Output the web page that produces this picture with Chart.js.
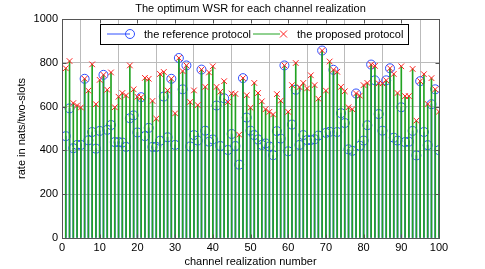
<!DOCTYPE html>
<html>
<head>
<meta charset="utf-8">
<script src="https://cdn.jsdelivr.net/npm/chart.js@4.4.1/dist/chart.umd.min.js"></script>
<style>
  html, body { margin: 0; padding: 0; background: #fff; }
  #wrap { width: 485px; height: 269px; position: relative; }
</style>
</head>
<body>
<div id="wrap"><canvas id="wsr" width="485" height="269"></canvas></div>
<script>
/* ---------- Data ---------- */
const realization = [
  1, 2, 3, 4, 5, 6, 7, 8, 9, 10, 11, 12, 13, 14, 15, 16, 17, 18, 19, 20,
  21, 22, 23, 24, 25, 26, 27, 28, 29, 30, 31, 32, 33, 34, 35, 36, 37, 38, 39, 40,
  41, 42, 43, 44, 45, 46, 47, 48, 49, 50, 51, 52, 53, 54, 55, 56, 57, 58, 59, 60,
  61, 62, 63, 64, 65, 66, 67, 68, 69, 70, 71, 72, 73, 74, 75, 76, 77, 78, 79, 80,
  81, 82, 83, 84, 85, 86, 87, 88, 89, 90, 91, 92, 93, 94, 95, 96, 97, 98, 99, 100
];

const referenceRate = [
  465, 592, 410, 425, 425, 727, 446, 484, 408, 489,
  745, 494, 516, 438, 438, 436, 416, 547, 560, 482,
  643, 465, 503, 416, 416, 444, 646, 460, 727, 425,
  822, 679, 788, 418, 470, 445, 769, 490, 440, 450,
  605, 420, 638, 402, 475, 420, 335, 730, 550, 490,
  470, 450, 425, 432, 418, 378, 488, 454, 788, 396,
  518, 677, 425, 470, 447, 447, 451, 468, 856, 480,
  485, 768, 484, 570, 525, 405, 398, 660, 421, 445,
  515, 792, 720, 566, 490, 720, 775, 458, 445, 597,
  438, 440, 489, 377, 716, 484, 424, 611, 679, 401
];

const proposedRate = [
  775, 808, 616, 605, 596, 727, 673, 793, 611, 722,
  745, 677, 756, 597, 645, 662, 651, 788, 679, 645,
  643, 731, 727, 626, 545, 749, 758, 674, 727, 569,
  822, 762, 788, 621, 674, 607, 769, 690, 756, 784,
  690, 668, 716, 621, 660, 658, 472, 730, 652, 595,
  708, 662, 624, 588, 576, 564, 657, 627, 788, 576,
  698, 799, 689, 708, 683, 743, 698, 636, 856, 673,
  806, 768, 759, 690, 670, 597, 588, 660, 650, 698,
  708, 792, 786, 706, 706, 720, 775, 749, 662, 784,
  648, 648, 772, 536, 716, 748, 612, 730, 679, 577
];

const xTicks = [0, 10, 20, 30, 40, 50, 60, 70, 80, 90, 100];
const yTicks = [0, 200, 400, 600, 800, 1000];

const TITLE = 'The optimum WSR for each channel realization';

/* ---------- Style ---------- */
const FONT = "'Liberation Sans', Arial, sans-serif";
const STEM_GREEN = '#22a322';
const STEM_BLUE = '#3050ff';
const MARK_RED = '#ff2020';
const BOX_GREY = '#555';

const pairs = (ys) => realization.map((x, i) => ({ x: x, y: ys[i] }));

// Title over the axes, box with inner ticks, in-plot legend (MATLAB style)
const boxAndLegend = {
  id: 'boxAndLegend',
  afterDraw(chart) {
    const { ctx, chartArea: a, scales } = chart;
    const L = Math.round(a.left) + 0.5, T = Math.round(a.top) + 0.5;
    const R = Math.round(a.right) + 0.5, B = Math.round(a.bottom) + 0.5;
    ctx.save();

    ctx.fillStyle = '#000';
    ctx.font = '11px ' + FONT;
    ctx.textAlign = 'center';
    ctx.textBaseline = 'middle';
    ctx.fillText(TITLE, (a.left + a.right) / 2, 9);

    ctx.strokeStyle = BOX_GREY;
    ctx.lineWidth = 1;
    ctx.strokeRect(L, T, R - L, B - T);
    ctx.beginPath();
    xTicks.forEach(v => {
      const px = Math.round(scales.x.getPixelForValue(v)) + 0.5;
      ctx.moveTo(px, B); ctx.lineTo(px, B - 4);
      ctx.moveTo(px, T); ctx.lineTo(px, T + 4);
    });
    yTicks.forEach(v => {
      const py = Math.round(scales.y.getPixelForValue(v)) + 0.5;
      ctx.moveTo(L, py); ctx.lineTo(L + 4, py);
      ctx.moveTo(R, py); ctx.lineTo(R - 4, py);
    });
    ctx.stroke();

    // legend
    const lx = 100, ly = 24, lw = 308, lh = 20, cy = ly + lh / 2;
    ctx.fillStyle = '#fff';
    ctx.fillRect(lx, ly, lw, lh);
    ctx.strokeStyle = '#000';
    ctx.strokeRect(lx + 0.5, ly + 0.5, lw, lh);

    ctx.strokeStyle = STEM_BLUE;
    ctx.beginPath();
    ctx.moveTo(107, cy); ctx.lineTo(130, cy); ctx.stroke();
    ctx.beginPath();
    ctx.arc(130, cy, 4.5, 0, Math.PI * 2); ctx.stroke();

    ctx.strokeStyle = STEM_GREEN;
    ctx.beginPath();
    ctx.moveTo(253, cy); ctx.lineTo(280, cy); ctx.stroke();
    ctx.strokeStyle = MARK_RED;
    ctx.beginPath();
    ctx.moveTo(280, cy - 3.5); ctx.lineTo(287, cy + 3.5);
    ctx.moveTo(280, cy + 3.5); ctx.lineTo(287, cy - 3.5);
    ctx.stroke();

    ctx.fillStyle = '#000';
    ctx.textAlign = 'left';
    ctx.fillText('the reference protocol', 144, cy + 0.5);
    ctx.fillText('the proposed protocol', 297, cy + 0.5);
    ctx.restore();
  }
};

new Chart(document.getElementById('wsr'), {
  type: 'bar',
  data: {
    datasets: [
      {
        type: 'bar',
        data: pairs(referenceRate),
        backgroundColor: STEM_BLUE,
        barThickness: 1,
        grouped: false,
        order: 4
      },
      {
        type: 'scatter',
        data: pairs(referenceRate),
        showLine: false,
        pointStyle: 'circle',
        pointRadius: 4.5,
        pointBorderWidth: 1,
        pointBorderColor: STEM_BLUE,
        pointBackgroundColor: 'rgba(0,0,0,0)',
        order: 3
      },
      {
        type: 'bar',
        data: pairs(proposedRate),
        backgroundColor: STEM_GREEN,
        barThickness: 1,
        grouped: false,
        order: 2
      },
      {
        type: 'scatter',
        data: pairs(proposedRate),
        showLine: false,
        pointStyle: 'crossRot',
        pointRadius: 4,
        pointBorderWidth: 1,
        pointBorderColor: MARK_RED,
        order: 1
      }
    ]
  },
  options: {
    responsive: false,
    animation: false,
    devicePixelRatio: 1,
    layout: { padding: { left: 0, right: 46, top: 19, bottom: 0 } },
    plugins: {
      legend: { display: false },
      tooltip: { enabled: false },
      title: { display: false }
    },
    scales: {
      x: {
        type: 'linear',
        min: 0,
        max: 100,
        offset: false,
        afterBuildTicks: (s) => { s.ticks = xTicks.map(v => ({ value: v })); },
        afterFit: (s) => { s.height = 31; },
        grid: { color: '#bbb', borderDash: [1, 2], drawTicks: false },
        border: { display: false },
        ticks: { color: '#000', padding: 3, maxRotation: 0, font: { family: FONT, size: 11 } },
        title: {
          display: true,
          text: 'channel realization number',
          color: '#000',
          padding: { top: 1, bottom: 0 },
          font: { family: FONT, size: 11 }
        }
      },
      y: {
        min: 0,
        max: 1000,
        afterBuildTicks: (s) => { s.ticks = yTicks.map(v => ({ value: v })); },
        afterFit: (s) => { s.width = 62; },
        grid: { color: '#bbb', borderDash: [1, 2], drawTicks: false },
        border: { display: false },
        ticks: {
          color: '#000', padding: 4,
          font: { family: FONT, size: 11 },
          callback: (v) => String(v)
        },
        title: {
          display: true,
          text: 'rate in nats/two-slots',
          color: '#000',
          padding: { top: 15, bottom: 0 },
          font: { family: FONT, size: 11 }
        }
      }
    }
  },
  plugins: [boxAndLegend]
});
</script>
</body>
</html>
